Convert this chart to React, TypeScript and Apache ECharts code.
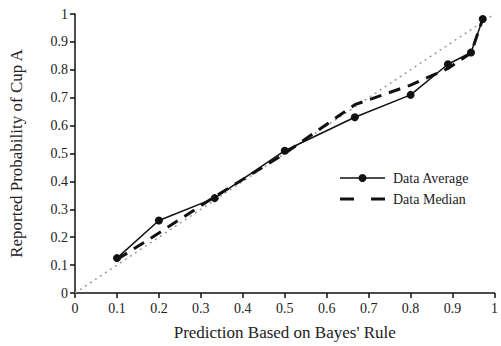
import React, { useEffect, useRef } from "react";
import * as echarts from "echarts";

const predicted = [0.1, 0.2, 0.333, 0.5, 0.667, 0.8, 0.889, 0.944, 0.972];
const dataAverage = [0.125, 0.26, 0.34, 0.51, 0.63, 0.71, 0.82, 0.862, 0.982];
const dataMedian = [0.12, 0.215, 0.345, 0.5, 0.675, 0.745, 0.805, 0.86, 0.982];
const diagonal = [0, 1];
const legendNames = ["Data Average", "Data Median"];

const FONT = "'Liberation Serif', 'Times New Roman', serif";

export default function App() {
  const ref = useRef<HTMLDivElement>(null);
  useEffect(() => {
    if (!ref.current) return;
    const chart = echarts.init(ref.current, undefined, { renderer: "svg" });
    const fmt = (v: number) => String(Math.round(v * 10) / 10);
    const lx = 340;
    const ly = 178;
    const gap = 21;
    chart.setOption({
      animation: false,
      backgroundColor: "#fff",
      textStyle: { fontFamily: FONT },
      grid: { left: 68, right: 4, top: 14, bottom: 48, containLabel: false },
      graphic: [
        { type: "line", shape: { x1: lx, y1: ly, x2: lx + 45, y2: ly }, style: { stroke: "#111", lineWidth: 1.5 } },
        { type: "circle", shape: { cx: lx + 22.5, cy: ly, r: 4 }, style: { fill: "#111" } },
        { type: "text", x: lx + 53, y: ly, style: { text: legendNames[0], font: `14px ${FONT}`, fill: "#222", verticalAlign: "middle" } },
        { type: "line", shape: { x1: lx, y1: ly + gap, x2: lx + 45, y2: ly + gap }, style: { stroke: "#111", lineWidth: 3, lineDash: [14, 17] } },
        { type: "text", x: lx + 53, y: ly + gap, style: { text: legendNames[1], font: `14px ${FONT}`, fill: "#222", verticalAlign: "middle" } },
      ],
      xAxis: {
        type: "value",
        min: 0,
        max: 1,
        interval: 0.1,
        name: "Prediction Based on Bayes' Rule",
        nameLocation: "middle",
        nameGap: 31,
        nameTextStyle: { fontFamily: FONT, fontSize: 17, color: "#222" },
        axisLine: { show: true, lineStyle: { color: "#111", width: 1.5 } },
        axisTick: { show: true, length: 5, lineStyle: { color: "#111", width: 1.5 } },
        axisLabel: { formatter: fmt, fontFamily: FONT, fontSize: 14, color: "#222", margin: 8 },
        splitLine: { show: false },
      },
      yAxis: {
        type: "value",
        min: 0,
        max: 1,
        interval: 0.1,
        name: "Reported Probability of Cup A",
        nameLocation: "middle",
        nameGap: 50,
        nameTextStyle: { fontFamily: FONT, fontSize: 17, color: "#222" },
        axisLine: { show: true, lineStyle: { color: "#111", width: 1.5 } },
        axisTick: { show: true, length: 5, lineStyle: { color: "#111", width: 1.5 } },
        axisLabel: { formatter: fmt, fontFamily: FONT, fontSize: 14, color: "#222", margin: 7 },
        splitLine: { show: false },
      },
      series: [
        {
          name: "Bayes",
          type: "line",
          data: diagonal.map((v) => [v, v]),
          symbol: "none",
          lineStyle: { color: "#999", width: 1.5, type: [2, 4] },
          silent: true,
          z: 1,
        },
        {
          name: legendNames[0],
          type: "line",
          data: predicted.map((x, i) => [x, dataAverage[i]]),
          symbol: "circle",
          symbolSize: 8,
          itemStyle: { color: "#111" },
          lineStyle: { color: "#111", width: 1.5 },
          z: 3,
        },
        {
          name: legendNames[1],
          type: "line",
          data: predicted.map((x, i) => [x, dataMedian[i]]),
          symbol: "none",
          itemStyle: { color: "#111" },
          lineStyle: { color: "#111", width: 3, type: [12, 8] },
          z: 2,
        },
      ],
    });
    return () => chart.dispose();
  }, []);
  return <div ref={ref} style={{ width: 501, height: 346, position: "absolute", left: 0, top: 0 }} />;
}
